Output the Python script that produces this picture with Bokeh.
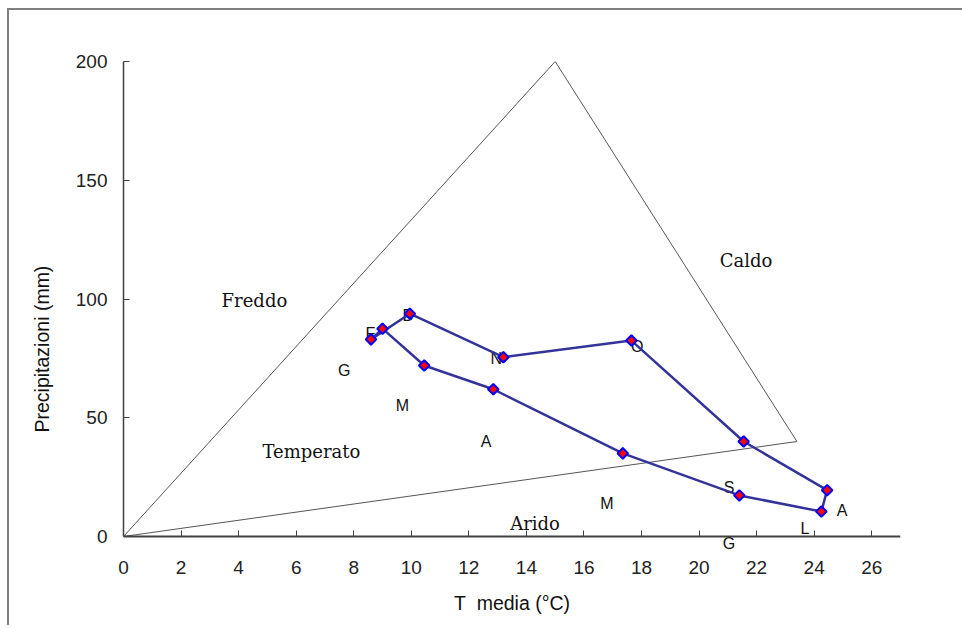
from bokeh.plotting import figure
from bokeh.models import Range1d, FixedTicker, LinearAxis, Title
from bokeh.core.properties import value
from bokeh.embed import file_html
from bokeh.resources import INLINE
import math

# Monthly data (Jan..Dec, Italian initials)
months = ["G", "F", "M", "A", "M", "G", "L", "A", "S", "O", "N", "D"]
temp = [8.6, 9.0, 10.45, 12.85, 17.35, 21.4, 24.25, 24.45, 21.55, 17.65, 13.2, 9.95]
prec = [83.0, 87.5, 72.0, 62.0, 35.0, 17.3, 10.5, 19.5, 40.0, 82.5, 75.5, 93.8]

# month label anchors (data coords)
label_x = [7.67, 8.58, 9.69, 12.6, 16.8, 21.04, 23.68, 24.97, 21.04, 17.85, 12.95, 9.9]
label_y = [69.9, 85.5, 55.2, 40.0, 13.9, -2.9, 3.4, 10.9, 20.6, 80.0, 74.9, 93.0]

# climate triangle vertices
tri_x = [0, 15, 23.4, 0]
tri_y = [0, 200, 40, 0]

# region names
region_names = ["Freddo", "Caldo", "Temperato", "Arido"]
region_x = [4.55, 21.63, 6.53, 14.3]
region_y = [99.4, 116.2, 35.8, 5.5]

x_ticks = list(range(0, 27, 2))
y_ticks = [0, 50, 100, 150, 200]

AX = "#404040"
SANS = "Liberation Sans"

# frame extends a little below y=0 so that labels under the x axis are not clipped
px_per_mm = 475 / 200.0
extra_px = 13
p = figure(frame_width=777, frame_height=475 + extra_px,
           min_border_left=114, min_border_top=51, min_border_right=62, min_border_bottom=76,
           x_range=Range1d(0, 27), y_range=Range1d(-extra_px / px_per_mm, 200),
           output_backend="svg", toolbar_location=None)
p.styles = {"border-left": "2px solid #808080", "border-top": "2px solid #808080",
            "margin-left": "7px", "margin-top": "8px"}

p.outline_line_color = None
p.xgrid.visible = False
p.ygrid.visible = False
p.background_fill_color = "white"
p.border_fill_color = "white"

# x axis: tick labels + title (at the frame bottom, no line)
xa = p.xaxis[0]
xa.ticker = FixedTicker(ticks=x_ticks)
xa.axis_line_color = None
xa.major_tick_line_color = None
xa.minor_tick_line_color = None
xa.major_tick_in = 0
xa.major_tick_out = 0
xa.major_label_text_font = SANS
xa.major_label_text_font_size = "19px"
xa.major_label_text_color = "#222222"
xa.major_label_standoff = 11
xa.axis_label = "T\u00a0 media (°C)"
xa.axis_label_text_font = SANS
xa.axis_label_text_font_style = "normal"
xa.axis_label_text_font_size = "19.5px"
xa.axis_label_text_color = "#111111"
xa.axis_label_standoff = 15

# x axis line with inward ticks at y = 0 (labels not drawn)
xl = LinearAxis(fixed_location=0, ticker=FixedTicker(ticks=x_ticks), bounds=(0, 27),
                axis_line_color=AX, axis_line_width=2,
                major_tick_line_color=AX, major_tick_in=6, major_tick_out=0,
                minor_tick_line_color=None,
                major_label_text_color=None, major_label_text_font_size="1px",
                major_label_standoff=0)
p.add_layout(xl, "below")

# y axis: line, inward ticks, tick labels
ya = p.yaxis[0]
ya.ticker = FixedTicker(ticks=y_ticks)
ya.bounds = (0, 200)
ya.axis_line_color = AX
ya.axis_line_width = 1.5
ya.major_tick_line_color = AX
ya.major_tick_in = 6
ya.major_tick_out = 0
ya.minor_tick_line_color = None
ya.major_label_text_font = SANS
ya.major_label_text_font_size = "19px"
ya.major_label_text_color = "#222222"
ya.major_label_standoff = 16

# y axis title, placed lower along the axis as in the original
p.add_layout(Title(text="Precipitazioni (mm)", align="left", offset=117,
                   text_font=SANS, text_font_style="normal",
                   text_font_size="19.5px", text_color="#111111", standoff=39),
             "left")

# triangle
p.line(tri_x, tri_y, line_color="#555555", line_width=1)

# region labels
p.text(region_x, region_y, text=region_names, text_font=value("DejaVu Serif"),
       text_font_size="18px", text_color="#111111", text_align="center",
       text_baseline="middle")

# month labels (under the markers)
p.text(label_x, label_y, text=months, text_font=value(SANS),
       text_font_size="16px", text_color="#111111", text_align="center",
       text_baseline="middle")

# loop of months (closed)
loop_x = temp + [temp[0]]
loop_y = prec + [prec[0]]
p.line(loop_x, loop_y, line_color="#333399", line_width=2.5)
p.scatter(temp, prec, marker="square", angle=math.pi / 4, size=7.5,
          fill_color="#ff0000", line_color="#0000ff", line_width=2)

open("out.html", "w").write(file_html(p, INLINE))
